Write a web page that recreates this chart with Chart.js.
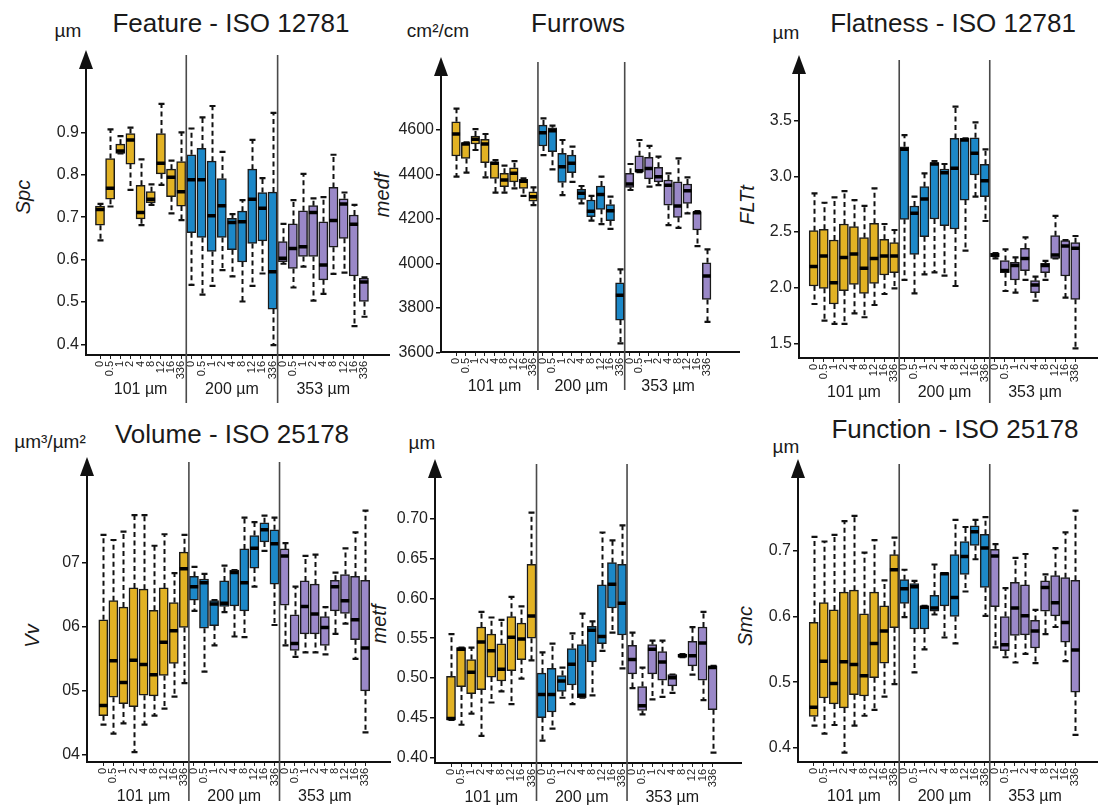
<!DOCTYPE html>
<html>
<head>
<meta charset="utf-8">
<script src="https://cdn.jsdelivr.net/npm/chart.js@4.4.1/dist/chart.umd.min.js"></script>
<style>
body { margin: 0; background: #fff; width: 1098px; height: 808px; overflow: hidden; position: relative;
       font-family: "Liberation Sans", Arial, sans-serif; color: #1a1a1a; }
canvas { position: absolute; }
.t { position: absolute; white-space: nowrap; line-height: 1; transform: translate(-50%, -50%); }
.title { font-size: 26px; }
.unit { font-size: 19px; }
.ylab { font-size: 20px; font-style: italic; transform: translate(-50%, -50%) rotate(-90deg); }
</style>
</head>
<body>
<div class="t title" style="left:231px;top:23px">Feature - ISO 12781</div>
<div class="t title" style="left:578px;top:23px">Furrows</div>
<div class="t title" style="left:953px;top:23px">Flatness - ISO 12781</div>
<div class="t title" style="left:232px;top:434px">Volume - ISO 25178</div>
<div class="t title" style="left:955px;top:429px">Function - ISO 25178</div>

<div class="t unit" style="left:68px;top:30px">µm</div>
<div class="t unit" style="left:438px;top:30px">cm²/cm</div>
<div class="t unit" style="left:786px;top:32px">µm</div>
<div class="t unit" style="left:50px;top:441px">µm³/µm²</div>
<div class="t unit" style="left:422px;top:442px">µm</div>
<div class="t unit" style="left:786px;top:446px">µm</div>

<div class="t ylab" style="left:23px;top:197px">Spc</div>
<div class="t ylab" style="left:382px;top:195px">medf</div>
<div class="t ylab" style="left:747px;top:205px">FLTt</div>
<div class="t ylab" style="left:32px;top:636px">Vv</div>
<div class="t ylab" style="left:379px;top:624px">metf</div>
<div class="t ylab" style="left:745px;top:626px">Smc</div>

<script>
/* Box plots of surface parameters per resolution group (101 / 200 / 353 µm) */

const doses = ["0", "0.5", "1", "2", "4", "8", "12", "16", "336"];
const sizes = ["101 µm", "200 µm", "353 µm"];
const allLabels = [].concat(doses, doses, doses);

/* Spc - Feature */
const spcMin = [0.645,0.725,0.85,0.764,0.681,0.729,0.776,0.709,0.693, 0.54,0.517,0.538,0.575,0.56,0.501,0.538,0.567,0.398, 0.59,0.534,0.583,0.503,0.519,0.566,0.569,0.443,0.465];
const spcQ1  = [0.681,0.742,0.85,0.825,0.696,0.734,0.802,0.748,0.726, 0.663,0.652,0.619,0.652,0.623,0.594,0.638,0.644,0.483, 0.595,0.579,0.607,0.607,0.552,0.629,0.65,0.561,0.501];
const spcMed = [0.718,0.768,0.856,0.882,0.711,0.742,0.827,0.794,0.76, 0.788,0.788,0.703,0.727,0.687,0.689,0.742,0.721,0.571, 0.603,0.626,0.63,0.711,0.587,0.692,0.731,0.683,0.547];
const spcQ3  = [0.726,0.838,0.872,0.897,0.775,0.76,0.897,0.813,0.831, 0.847,0.862,0.832,0.791,0.697,0.714,0.813,0.758,0.759, 0.642,0.684,0.715,0.727,0.689,0.77,0.743,0.705,0.556];
const spcMax = [0.731,0.907,0.891,0.911,0.836,0.777,0.967,0.833,0.9, 0.909,0.935,0.962,0.854,0.707,0.74,0.882,0.792,0.946, 0.684,0.74,0.802,0.744,0.747,0.847,0.758,0.729,0.558];

/* medf - Furrows */
const medfMin = [4390,4408,4510,4387,4318,4318,4337,4304,4262, 4487,4423,4307,4367,4270,4192,4177,4155,3640, 4330,4410,4345,4352,4172,4160,4225,4078,3737];
const medfQ1  = [4483,4472,4537,4453,4382,4345,4367,4337,4280, 4528,4502,4364,4408,4288,4210,4243,4192,3745, 4342,4412,4380,4367,4262,4207,4270,4150,3838];
const medfMed = [4582,4537,4558,4537,4450,4375,4405,4370,4300, 4588,4597,4435,4450,4315,4235,4310,4237,3857, 4357,4417,4427,4390,4352,4258,4327,4228,3943];
const medfQ3  = [4637,4543,4573,4558,4457,4405,4430,4378,4322, 4622,4610,4495,4487,4333,4285,4348,4265,3913, 4405,4484,4477,4432,4375,4367,4357,4232,4003];
const medfMax = [4696,4545,4604,4582,4465,4440,4460,4382,4342, 4652,4620,4555,4525,4348,4304,4390,4300,3973, 4447,4555,4529,4480,4405,4472,4387,4235,4063];

/* FLTt - Flatness */
const fltMin = [1.853,1.704,1.674,1.674,1.769,1.734,1.844,1.943,1.994, 2.069,1.949,2.12,2.138,2.108,2.015,2.332,2.817,2.599, 2.263,1.97,1.955,2.069,1.883,2.069,2.263,1.91,1.455];
const fltQ1  = [2.015,1.994,1.853,1.973,2.03,1.949,2.039,2.114,2.135, 2.614,2.299,2.458,2.617,2.557,2.527,2.787,3.012,2.817, 2.278,2.135,2.069,2.153,1.955,2.135,2.263,2.105,1.895];
const fltMed = [2.189,2.284,2.045,2.272,2.302,2.174,2.263,2.284,2.284, 3.243,2.668,2.796,3.111,3.033,3.072,3.326,3.207,2.961, 2.293,2.153,2.198,2.263,2.024,2.198,2.293,2.374,2.353];
const fltQ3  = [2.512,2.524,2.428,2.572,2.548,2.449,2.578,2.434,2.404, 3.266,2.734,2.907,3.123,3.066,3.341,3.341,3.347,3.108, 2.308,2.243,2.228,2.353,2.063,2.219,2.467,2.422,2.404];
const fltMax = [2.847,2.763,2.811,2.868,2.787,2.734,2.892,2.572,2.518, 3.371,2.817,3.027,3.138,3.111,3.626,3.341,3.485,3.243, 2.31,2.344,2.272,2.452,2.099,2.24,2.644,2.428,2.464];

/* Vv - Volume */
const vvMin = [0.447,0.433,0.449,0.404,0.447,0.461,0.472,0.491,0.512, 0.625,0.53,0.571,0.623,0.585,0.584,0.663,0.719,0.603, 0.571,0.553,0.56,0.56,0.557,0.589,0.605,0.55,0.435];
const vvQ1  = [0.461,0.49,0.48,0.475,0.493,0.492,0.524,0.543,0.599, 0.642,0.598,0.602,0.632,0.633,0.625,0.692,0.733,0.667, 0.634,0.563,0.589,0.589,0.571,0.625,0.621,0.58,0.5];
const vvMed = [0.477,0.547,0.513,0.548,0.541,0.525,0.576,0.594,0.691, 0.663,0.669,0.636,0.637,0.685,0.669,0.723,0.752,0.73, 0.711,0.574,0.632,0.62,0.599,0.663,0.641,0.611,0.567];
const vvQ3  = [0.611,0.641,0.631,0.661,0.659,0.626,0.661,0.638,0.717, 0.679,0.675,0.641,0.672,0.689,0.722,0.743,0.763,0.752, 0.722,0.619,0.672,0.667,0.616,0.673,0.682,0.679,0.673];
const vvMax = [0.744,0.736,0.749,0.775,0.775,0.727,0.745,0.684,0.744, 0.694,0.683,0.642,0.696,0.689,0.771,0.764,0.774,0.771, 0.731,0.663,0.711,0.713,0.631,0.685,0.723,0.748,0.782];

/* metf */
const metfMin = [0.447,0.441,0.455,0.427,0.469,0.483,0.467,0.499,0.522, 0.421,0.436,0.475,0.467,0.475,0.478,0.534,0.557,0.512, 0.487,0.454,0.473,0.476,0.481,0.526,0.504,0.472,0.406];
const metfQ1  = [0.447,0.489,0.48,0.485,0.501,0.496,0.509,0.523,0.55, 0.45,0.457,0.483,0.491,0.475,0.52,0.543,0.588,0.554, 0.505,0.459,0.505,0.497,0.49,0.526,0.515,0.497,0.46];
const metfMed = [0.449,0.536,0.507,0.545,0.534,0.511,0.551,0.549,0.578, 0.479,0.479,0.496,0.517,0.478,0.56,0.552,0.618,0.594, 0.523,0.465,0.536,0.52,0.5,0.528,0.528,0.544,0.513];
const metfQ3  = [0.502,0.538,0.523,0.564,0.555,0.543,0.577,0.569,0.643, 0.506,0.512,0.503,0.537,0.542,0.565,0.617,0.645,0.643, 0.541,0.489,0.542,0.533,0.504,0.53,0.546,0.564,0.515];
const metfMax = [0.555,0.538,0.538,0.583,0.576,0.573,0.602,0.59,0.708, 0.532,0.543,0.513,0.556,0.581,0.571,0.683,0.673,0.692, 0.557,0.513,0.547,0.547,0.504,0.53,0.564,0.583,0.515];

/* Smc - Function */
const smcMin = [0.434,0.422,0.435,0.393,0.434,0.449,0.458,0.478,0.497, 0.599,0.515,0.55,0.603,0.568,0.559,0.638,0.687,0.601, 0.553,0.538,0.53,0.543,0.529,0.573,0.584,0.532,0.42];
const smcQ1  = [0.448,0.476,0.467,0.461,0.481,0.479,0.507,0.529,0.583, 0.62,0.581,0.581,0.608,0.616,0.6,0.664,0.708,0.644, 0.615,0.548,0.571,0.572,0.552,0.608,0.601,0.561,0.485];
const smcMed = [0.462,0.532,0.498,0.531,0.527,0.51,0.559,0.578,0.671, 0.642,0.645,0.614,0.613,0.665,0.629,0.691,0.729,0.704, 0.692,0.557,0.613,0.601,0.578,0.644,0.621,0.591,0.549];
const smcQ3  = [0.591,0.621,0.61,0.637,0.64,0.604,0.637,0.616,0.694, 0.656,0.65,0.616,0.632,0.666,0.694,0.714,0.738,0.725, 0.702,0.6,0.652,0.648,0.594,0.654,0.662,0.659,0.655];
const smcMax = [0.721,0.714,0.724,0.745,0.753,0.697,0.716,0.655,0.72, 0.671,0.654,0.616,0.679,0.666,0.747,0.736,0.747,0.751, 0.71,0.643,0.689,0.695,0.61,0.664,0.704,0.728,0.761];

/* y tick values and their printed labels */
const spcTicks = [0.4, 0.5, 0.6, 0.7, 0.8, 0.9];
const spcTickLabels = ["0.4", "0.5", "0.6", "0.7", "0.8", "0.9"];
const medfTicks = [3600, 3800, 4000, 4200, 4400, 4600];
const medfTickLabels = ["3600", "3800", "4000", "4200", "4400", "4600"];
const fltTicks = [1.5, 2.0, 2.5, 3.0, 3.5];
const fltTickLabels = ["1.5", "2.0", "2.5", "3.0", "3.5"];
const vvTicks = [0.4, 0.5, 0.6, 0.7];
const vvTickLabels = ["04", "05", "06", "07"];
const metfTicks = [0.40, 0.45, 0.50, 0.55, 0.60, 0.65, 0.70];
const metfTickLabels = ["0.40", "0.45", "0.50", "0.55", "0.60", "0.65", "0.70"];
const smcTicks = [0.4, 0.5, 0.6, 0.7];
const smcTickLabels = ["0.4", "0.5", "0.6", "0.7"];

const boxColors = ["#E2B224", "#1C88C8", "#9A88C8"];

/* layout: chart area in page px, first box centre + spacing, two tick calibrations */
const panels = [
    { left: 86, top: 68, right: 390, bottom: 355, c0: 100, step: 10.15, cal: [0.9, 132.3, 0.4, 344.3], sepBelow: 48,
      ticks: spcTicks, tickLabels: spcTickLabels, min: spcMin, q1: spcQ1, med: spcMed, q3: spcQ3, max: spcMax },
    { left: 441, top: 75, right: 740, bottom: 352, c0: 456, step: 9.64, cal: [4600, 130, 3600, 352.3], sepBelow: 38,
      ticks: medfTicks, tickLabels: medfTickLabels, min: medfMin, q1: medfQ1, med: medfMed, q3: medfQ3, max: medfMax },
    { left: 799, top: 73, right: 1098, bottom: 358, c0: 813.7, step: 10.06, cal: [3.5, 120.7, 1.5, 343.3], sepBelow: 45,
      ticks: fltTicks, tickLabels: fltTickLabels, min: fltMin, q1: fltQ1, med: fltMed, q3: fltQ3, max: fltMax },
    { left: 87, top: 475, right: 391, bottom: 762, c0: 103.3, step: 10.07, cal: [0.7, 563, 0.4, 754.7], sepBelow: 39,
      ticks: vvTicks, tickLabels: vvTickLabels, min: vvMin, q1: vvQ1, med: vvMed, q3: vvQ3, max: vvMax },
    { left: 435, top: 477, right: 742, bottom: 763, c0: 451, step: 10.06, cal: [0.70, 519, 0.40, 757.3], sepBelow: 38,
      ticks: metfTicks, tickLabels: metfTickLabels, min: metfMin, q1: metfQ1, med: metfMed, q3: metfQ3, max: metfMax },
    { left: 798, top: 477, right: 1098, bottom: 762, c0: 813.7, step: 10.06, cal: [0.7, 550.7, 0.4, 748], sepBelow: 39,
      ticks: smcTicks, tickLabels: smcTickLabels, min: smcMin, q1: smcQ1, med: smcMed, q3: smcQ3, max: smcMax },
];

const YW = 60, PT = 24, XH = 55;

/* whiskers, medians, group separators, axis arrow and group names */
function boxPlugin(p) {
    return {
        id: "boxes",
        beforeDatasetsDraw(chart) {
            const ctx = chart.ctx, xs = chart.scales.x, ys = chart.scales.y;
            ctx.save();
            ctx.strokeStyle = "#111";
            p.min.forEach((v, i) => {
                const x = Math.round(xs.getPixelForValue(i)) + 0.5;
                ctx.lineWidth = 2;
                ctx.setLineDash([5, 3.5]);
                ctx.beginPath();
                ctx.moveTo(x, ys.getPixelForValue(p.q3[i]));
                ctx.lineTo(x, ys.getPixelForValue(p.max[i]));
                ctx.moveTo(x, ys.getPixelForValue(p.q1[i]));
                ctx.lineTo(x, ys.getPixelForValue(v));
                ctx.stroke();
                ctx.setLineDash([]);
                ctx.lineWidth = 2.2;
                ctx.beginPath();
                [p.max[i], v].forEach((w) => {
                    const y = ys.getPixelForValue(w);
                    ctx.moveTo(x - 3, y);
                    ctx.lineTo(x + 3, y);
                });
                ctx.stroke();
            });
            ctx.restore();
        },
        afterDatasetsDraw(chart) {
            const ctx = chart.ctx, xs = chart.scales.x, ys = chart.scales.y;
            const half = (p.step - 1.5) / 2;
            ctx.save();
            ctx.strokeStyle = "#000";
            ctx.lineWidth = 3.5;
            ctx.beginPath();
            p.med.forEach((v, i) => {
                const x = xs.getPixelForValue(i), y = ys.getPixelForValue(v);
                ctx.moveTo(x - half, y);
                ctx.lineTo(x + half, y);
            });
            ctx.stroke();
            ctx.restore();
        },
        afterDraw(chart) {
            const ctx = chart.ctx, xs = chart.scales.x, a = chart.chartArea;
            ctx.save();
            ctx.strokeStyle = "#4a4a4a";
            ctx.lineWidth = 1.6;
            ctx.beginPath();
            [8.5, 17.5].forEach((s) => {
                const x = xs.getPixelForValue(s);
                ctx.moveTo(x, a.top - 13);
                ctx.lineTo(x, a.bottom + p.sepBelow);
            });
            ctx.stroke();
            ctx.fillStyle = "#111";
            ctx.beginPath();
            ctx.moveTo(a.left, a.top - 18);
            ctx.lineTo(a.left - 7, a.top + 1);
            ctx.lineTo(a.left + 7, a.top + 1);
            ctx.closePath();
            ctx.fill();
            ctx.font = '16px "Liberation Sans", Arial, sans-serif';
            ctx.textAlign = "center";
            ctx.textBaseline = "middle";
            ctx.fillStyle = "#1a1a1a";
            sizes.forEach((s, g) => {
                ctx.fillText(s, xs.getPixelForValue(4 + 9 * g), a.bottom + 35);
            });
            ctx.restore();
        }
    };
}

function makePanel(p) {
    const canvas = document.createElement("canvas");
    canvas.width = p.right - p.left + YW;
    canvas.height = p.bottom - p.top + PT + XH;
    canvas.style.left = (p.left - YW) + "px";
    canvas.style.top = (p.top - PT) + "px";
    document.body.appendChild(canvas);

    const [v1, p1, v2, p2] = p.cal;
    const perPx = (v1 - v2) / (p2 - p1);
    const yMax = v1 + (p1 - p.top) * perPx;
    const yMin = v2 - (p.bottom - p2) * perPx;

    return new Chart(canvas, {
        type: "bar",
        data: {
            datasets: [{
                data: p.q1.map((v, i) => ({ x: i, y: [v, p.q3[i]] })),
                backgroundColor: p.q1.map((v, i) => boxColors[Math.floor(i / 9)]),
                borderColor: "#1a1a1a",
                borderWidth: 1.5,
                borderSkipped: false,
                barThickness: p.step - 1,
            }]
        },
        options: {
            responsive: false,
            animation: false,
            devicePixelRatio: 1,
            layout: { padding: { top: PT, left: 0, right: 0, bottom: 0 } },
            plugins: { legend: { display: false }, tooltip: { enabled: false } },
            scales: {
                x: {
                    type: "linear",
                    offset: false,
                    min: (p.left - p.c0) / p.step,
                    max: (p.right - p.c0) / p.step,
                    afterBuildTicks: (s) => { s.ticks = allLabels.map((l, i) => ({ value: i })); },
                    afterFit: (s) => { s.height = XH; },
                    ticks: {
                        autoSkip: false, minRotation: 90, maxRotation: 90, padding: 2,
                        color: "#222", font: { size: 11, family: "Liberation Sans" },
                        callback: (value) => allLabels[value],
                    },
                    grid: { offset: false, drawOnChartArea: false, tickLength: 4, color: "#222", lineWidth: 1 },
                    border: { color: "#111", width: 2 },
                },
                y: {
                    type: "linear",
                    min: yMin,
                    max: yMax,
                    afterBuildTicks: (s) => { s.ticks = p.ticks.map((v) => ({ value: v })); },
                    afterFit: (s) => { s.width = YW; },
                    ticks: {
                        padding: 2, color: "#222", font: { size: 16, family: "Liberation Sans" },
                        callback: (value, index) => p.tickLabels[index],
                    },
                    grid: { drawOnChartArea: false, tickLength: 5, color: "#111", lineWidth: 1.5 },
                    border: { color: "#111", width: 2 },
                },
            },
        },
        plugins: [boxPlugin(p)],
    });
}

const charts = [];
window.addEventListener("load", () => {
    panels.forEach((p) => charts.push(makePanel(p)));
});
</script>
</body>
</html>
